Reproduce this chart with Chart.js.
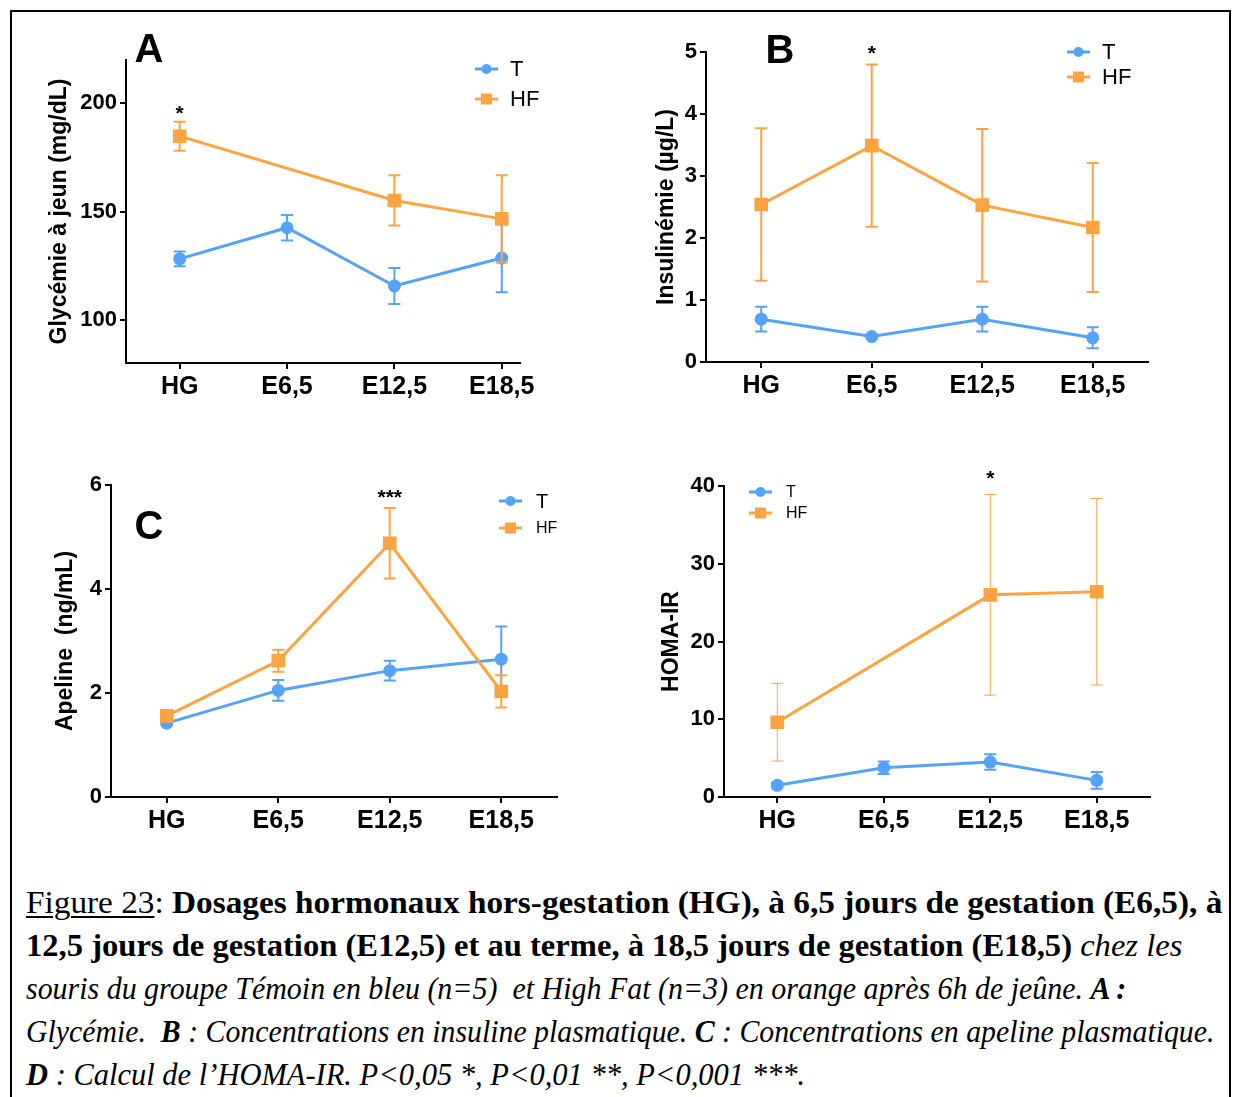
<!DOCTYPE html>
<html lang="fr">
<head>
<meta charset="utf-8">
<title>Figure 23</title>
<script src="https://cdn.jsdelivr.net/npm/chart.js@4.4.1/dist/chart.umd.min.js"></script>
<style>
  html, body { margin: 0; padding: 0; background: #fff; }
  body { width: 1239px; height: 1097px; position: relative; overflow: hidden; }
  .frame { position: absolute; left: 10px; top: 10px; width: 1221px; height: 1110px; border: 2px solid #000; box-sizing: border-box; }
  canvas { position: absolute; }
  #chartA { left: 20px; top: 20px; }
  #chartB { left: 620px; top: 20px; }
  #chartC { left: 20px; top: 455px; }
  #chartD { left: 620px; top: 455px; }
  .caption { position: absolute; left: 26px; top: 881px; font-family: "Liberation Serif", "Times New Roman", serif; font-size: 31px; color: #000; }
  .caption .line { height: 43px; line-height: 43px; white-space: nowrap; }
  .caption .fit { display: inline-block; transform-origin: 0 50%; }
  .caption u { text-decoration-thickness: 2px; text-underline-offset: 3px; }
</style>
</head>
<body>
<div class="frame"></div>
<canvas id="chartA" width="580" height="410"></canvas>
<canvas id="chartB" width="580" height="410"></canvas>
<canvas id="chartC" width="580" height="395"></canvas>
<canvas id="chartD" width="580" height="395"></canvas>

<div class="caption">
  <div class="line"><span class="fit" data-w="1196"><u>Figure 23</u>: <b>Dosages hormonaux hors-gestation (HG), à 6,5 jours de gestation (E6,5), à</b></span></div>
  <div class="line"><span class="fit" data-w="1156"><b>12,5 jours de gestation (E12,5) et au terme, à 18,5 jours de gestation (E18,5)</b> <i>chez les</i></span></div>
  <div class="line"><span class="fit" data-w="1100"><i>souris du groupe Témoin en bleu (n=5)&nbsp; et High Fat (n=3) en orange après 6h de jeûne. <b>A :</b></i></span></div>
  <div class="line"><span class="fit" data-w="1188"><i>Glycémie.&nbsp; <b>B</b> : Concentrations en insuline plasmatique. <b>C</b> : Concentrations en apeline plasmatique.</i></span></div>
  <div class="line"><span class="fit" data-w="779"><i><b>D</b> : Calcul de l’HOMA-IR. P&lt;0,05 *, P&lt;0,01 **, P&lt;0,001 ***.</i></span></div>
</div>

<script>
const BLUE = "#55a2f7";
const ORANGE = "#fda442";
const FONT = "'Liberation Sans', Arial, sans-serif";

const categories = ["HG", "E6,5", "E12,5", "E18,5"];

// A : glycémie à jeun (mg/dL)
const glyT = [128.1, 142.5, 115.6, 128.5];
const glyTErr = [3.4, 5.9, 8.3, 15.8];
const glyHF = [184.8, null, 155.1, 146.6];
const glyHFErr = [6.7, null, 11.6, 20.2];
const glyStars = ["*", "", "", ""];
const glyTicks = [100, 150, 200];

// B : insulinémie (µg/L)
const insT = [0.69, 0.41, 0.69, 0.39];
const insTErr = [0.2, 0.02, 0.2, 0.17];
const insHF = [2.54, 3.49, 2.53, 2.17];
const insHFErr = [1.23, 1.31, 1.23, 1.04];
const insStars = ["", "*", "", ""];
const insTicks = [0, 1, 2, 3, 4, 5];

// C : apeline (ng/mL)
const apeT = [1.42, 2.05, 2.43, 2.65];
const apeTErr = [0.04, 0.2, 0.19, 0.63];
const apeHF = [1.56, 2.62, 4.88, 2.03];
const apeHFErr = [0.05, 0.21, 0.68, 0.31];
const apeStars = ["", "", "***", ""];
const apeTicks = [0, 2, 4, 6];

// D : HOMA-IR
const homaT = [1.5, 3.76, 4.49, 2.14];
const homaTErr = [0.3, 0.8, 1.0, 1.07];
const homaHF = [9.62, null, 26.0, 26.4];
const homaHFErr = [5.0, null, 12.9, 12.0];
const homaStars = ["", "", "*", ""];
const homaTicks = [0, 10, 20, 30, 40];

function points(values) {
    return values.map((v, i) => ({ x: i, y: v }));
}

// barres d'erreur (SEM), dessinées juste avant chaque série
const errorBars = {
    id: "errorBars",
    beforeDatasetDraw(chart, args) {
        const ds = chart.data.datasets[args.index];
        if (!ds.errors) return;
        const { ctx, scales: { x, y } } = chart;
        ctx.save();
        ctx.strokeStyle = ds.borderColor;
        ctx.lineWidth = ds.errorWidth || 2;
        ds.data.forEach((p, j) => {
            const e = ds.errors[j];
            if (p.y == null || !e) return;
            const px = x.getPixelForValue(p.x);
            const top = y.getPixelForValue(p.y + e);
            const bot = y.getPixelForValue(p.y - e);
            ctx.beginPath();
            ctx.moveTo(px, top); ctx.lineTo(px, bot);
            ctx.moveTo(px - 6, top); ctx.lineTo(px + 6, top);
            ctx.moveTo(px - 6, bot); ctx.lineTo(px + 6, bot);
            ctx.stroke();
        });
        ctx.restore();
    }
};

// lettre du panneau, légende et étoiles de significativité
const decorations = {
    id: "decorations",
    afterDraw(chart, args, opts) {
        const { ctx, scales: { x, y } } = chart;
        ctx.save();
        ctx.fillStyle = "#000";

        if (opts.letter) {
            ctx.font = "bold 40px " + FONT;
            ctx.textAlign = "center";
            ctx.textBaseline = "middle";
            ctx.fillText(opts.letter, opts.letterX, opts.letterY);
        }

        chart.data.datasets.forEach((ds, i) => {
            const lx = opts.legendX;
            const ly = opts.legendY + i * opts.legendGap;
            ctx.strokeStyle = ds.borderColor;
            ctx.fillStyle = ds.borderColor;
            ctx.lineWidth = 3;
            ctx.beginPath();
            ctx.moveTo(lx, ly);
            ctx.lineTo(lx + 23, ly);
            ctx.stroke();
            if (ds.pointStyle === "rect") {
                ctx.fillRect(lx + 11.5 - 5.5, ly - 5.5, 11, 11);
            } else {
                ctx.beginPath();
                ctx.arc(lx + 11.5, ly, 5, 0, Math.PI * 2);
                ctx.fill();
            }
            ctx.fillStyle = "#000";
            ctx.font = opts.legendFonts[i] + "px " + FONT;
            ctx.textAlign = "left";
            ctx.textBaseline = "middle";
            ctx.fillText(ds.label, opts.legendTextX, ly + 1);
        });

        ctx.font = "bold 21px " + FONT;
        ctx.textAlign = "center";
        ctx.textBaseline = "alphabetic";
        opts.stars.forEach((s, j) => {
            if (!s) return;
            let top = -Infinity;
            chart.data.datasets.forEach(ds => {
                const p = ds.data[j];
                if (p.y == null) return;
                top = Math.max(top, p.y + (ds.errors[j] || 0));
            });
            ctx.fillText(s, x.getPixelForValue(j), y.getPixelForValue(top) - opts.starGap);
        });
        ctx.restore();
    }
};

function drawPanel(canvasId, p) {
    const axisLine = { display: true, color: "#000", width: 2 };
    const tickMarks = { display: true, drawOnChartArea: false, drawTicks: true, tickLength: 6, color: "#000", lineWidth: 2 };

    new Chart(document.getElementById(canvasId), {
        type: "line",
        data: {
            datasets: [{
                label: "T",
                data: points(p.t),
                errors: p.tErr,
                borderColor: BLUE,
                backgroundColor: BLUE,
                pointBackgroundColor: BLUE,
                pointStyle: "circle",
                pointRadius: 5,
                borderWidth: 3,
                spanGaps: true,
                order: 2
            }, {
                label: "HF",
                data: points(p.hf),
                errors: p.hfErr,
                errorWidth: p.hfErrWidth,
                borderColor: ORANGE,
                backgroundColor: ORANGE,
                pointBackgroundColor: ORANGE,
                pointStyle: "rect",
                pointRadius: 7.5,
                borderWidth: 3,
                spanGaps: true,
                order: 1
            }]
        },
        options: {
            responsive: false,
            animation: false,
            events: [],
            layout: { padding: { top: p.padTop, right: p.padRight, left: 0, bottom: 0 } },
            plugins: {
                legend: { display: false },
                tooltip: { enabled: false },
                decorations: p.deco
            },
            scales: {
                x: {
                    type: "linear",
                    min: -0.5,
                    max: p.xMax,
                    afterBuildTicks: s => { s.ticks = categories.map((c, i) => ({ value: i })); },
                    afterFit: s => { s.height = p.xHeight; },
                    ticks: {
                        callback: v => categories[v],
                        font: { family: FONT, size: 25, weight: "bold" },
                        color: "#000",
                        padding: 3,
                        autoSkip: false,
                        maxRotation: 0
                    },
                    grid: tickMarks,
                    border: axisLine
                },
                y: {
                    min: p.yMin,
                    max: p.yMax,
                    afterBuildTicks: s => { s.ticks = p.yTicks.map(v => ({ value: v })); },
                    afterFit: s => { s.width = p.yWidth; },
                    ticks: {
                        callback: v => String(v),
                        font: { family: FONT, size: 22, weight: "bold" },
                        color: "#000",
                        padding: 3
                    },
                    title: {
                        display: true,
                        text: p.title,
                        font: { family: FONT, size: 23, weight: "bold" },
                        color: "#000",
                        padding: { top: p.titlePad, bottom: 0 }
                    },
                    grid: tickMarks,
                    border: axisLine
                }
            }
        },
        plugins: [errorBars, decorations]
    });
}

drawPanel("chartA", {
    t: glyT, tErr: glyTErr, hf: glyHF, hfErr: glyHFErr,
    yMin: 80, yMax: 220, yTicks: glyTicks, xMax: 3.17,
    title: "Glycémie à jeun (mg/dL)", titlePad: 26,
    yWidth: 106, xHeight: 67, padTop: 40, padRight: 80,
    deco: { letter: "A", letterX: 129, letterY: 31, legendX: 455, legendY: 49, legendGap: 30,
            legendTextX: 490, legendFonts: [22, 22], stars: glyStars, starGap: 2 }
});

drawPanel("chartB", {
    t: insT, tErr: insTErr, hf: insHF, hfErr: insHFErr,
    yMin: 0, yMax: 5, yTicks: insTicks, xMax: 3.5,
    title: "Insulinémie (µg/L)", titlePad: 33,
    yWidth: 86, xHeight: 68, padTop: 32, padRight: 52,
    deco: { letter: "B", letterX: 160, letterY: 32, legendX: 447, legendY: 32, legendGap: 25,
            legendTextX: 482, legendFonts: [22, 22], stars: insStars, starGap: 4 }
});

drawPanel("chartC", {
    t: apeT, tErr: apeTErr, hf: apeHF, hfErr: apeHFErr,
    yMin: 0, yMax: 6, yTicks: apeTicks, xMax: 3.5,
    title: "Apeline  (ng/mL)", titlePad: 32,
    yWidth: 91, xHeight: 53, padTop: 30, padRight: 43,
    deco: { letter: "C", letterX: 129, letterY: 73, legendX: 479, legendY: 46, legendGap: 27,
            legendTextX: 516, legendFonts: [20, 16], stars: apeStars, starGap: 4 }
});

drawPanel("chartD", {
    t: homaT, tErr: homaTErr, hf: homaHF, hfErr: homaHFErr, hfErrWidth: 1,
    yMin: 0, yMax: 40, yTicks: homaTicks, xMax: 3.5,
    title: "HOMA-IR", titlePad: 38,
    yWidth: 104, xHeight: 53, padTop: 31, padRight: 50,
    deco: { letter: "", legendX: 129, legendY: 37, legendGap: 21,
            legendTextX: 166, legendFonts: [16, 16], stars: homaStars, starGap: 10 }
});

// ajuste la largeur de chaque ligne de la légende de figure
document.fonts.ready.then(() => {
    document.querySelectorAll(".caption .fit").forEach(el => {
        const target = parseFloat(el.dataset.w);
        el.style.transform = "scaleX(" + (target / el.offsetWidth) + ")";
    });
});
</script>
</body>
</html>
